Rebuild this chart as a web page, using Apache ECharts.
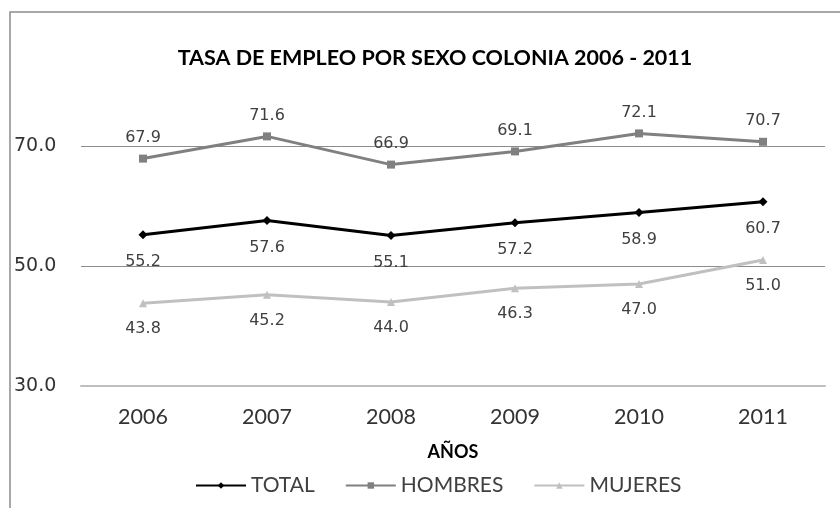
<!DOCTYPE html>
<html>
<head>
<meta charset="utf-8">
<script src="https://cdn.jsdelivr.net/npm/echarts@6/dist/echarts.min.js"></script>
<style>
html, body { margin: 0; padding: 0; background: #fff; }
#chart { width: 840px; height: 508px; }
</style>
</head>
<body>
<div id="chart"></div>
<script>
// data
var years = ['2006', '2007', '2008', '2009', '2010', '2011'];
var total = [55.2, 57.6, 55.1, 57.2, 58.9, 60.7];
var hombres = [67.9, 71.6, 66.9, 69.1, 72.1, 70.7];
var mujeres = [43.8, 45.2, 44.0, 46.3, 47.0, 51.0];

var label_font = 'DejaVu Sans';
var text_font = 'Lato';

var make_label = function(pos, dist){
  return {
    show: true,
    position: pos,
    distance: dist,
    fontFamily: label_font,
    fontSize: 16,
    color: '#404040',
    formatter: function(p){ return p.value.toFixed(1); }
  };
}

var chart = echarts.init(document.getElementById('chart'));

var option = {
  animation: false,
  backgroundColor: '#fff',
  title: {
    text: 'TASA DE EMPLEO POR SEXO COLONIA 2006 - 2011',
    left: 430,
    top: 42,
    textAlign: 'center',
    textStyle: { fontFamily: text_font, fontWeight: 'bold', fontSize: 21.5, color: '#000' }
  },
  graphic: [{
    type: 'rect',
    shape: { x: 10, y: 12, width: 900, height: 600 },
    style: { fill: 'none', stroke: '#8c8c8c', lineWidth: 1.5 },
    silent: true
  }],
  legend: {
    bottom: 7,
    left: 190,
    itemWidth: 50,
    itemHeight: 8,
    itemGap: 30,
    textStyle: { fontFamily: text_font, fontSize: 21, color: '#404040' },
    data: ['TOTAL', 'HOMBRES', 'MUJERES']
  },
  grid: { left: 81, right: 15, top: 86, bottom: 122, containLabel: false },
  xAxis: {
    type: 'category',
    data: years,
    boundaryGap: true,
    name: 'AÑOS',
    nameLocation: 'middle',
    nameGap: 57,
    nameTextStyle: { fontFamily: text_font, fontWeight: 'bold', fontSize: 18, color: '#000' },
    axisLine: { lineStyle: { color: '#bfbfbf', width: 2 } },
    axisTick: { show: false },
    axisLabel: { fontFamily: text_font, fontSize: 21.5, color: '#333', margin: 20 }
  },
  yAxis: {
    type: 'value',
    min: 30,
    max: 80,
    interval: 20,
    axisLine: { show: false },
    axisTick: { show: false },
    axisLabel: {
      fontFamily: label_font, fontSize: 19, color: '#333',
      align: 'left', margin: 67, showMaxLabel: false,
      formatter: function(v){ return v.toFixed(1); }
    },
    splitLine: { showMinLine: false, showMaxLine: false, lineStyle: { color: '#8c8c8c', width: 1 } }
  },
  series: [{
    name: 'TOTAL',
    type: 'line',
    data: total,
    symbol: 'diamond',
    symbolSize: 9,
    lineStyle: { color: '#000', width: 3 },
    itemStyle: { color: '#000' },
    label: make_label('bottom', 15)
  }, {
    name: 'HOMBRES',
    type: 'line',
    data: hombres,
    symbol: 'rect',
    symbolSize: 8,
    lineStyle: { color: '#808080', width: 3 },
    itemStyle: { color: '#808080' },
    label: make_label('top', 9)
  }, {
    name: 'MUJERES',
    type: 'line',
    data: mujeres,
    symbol: 'triangle',
    symbolSize: 8,
    lineStyle: { color: '#c0c0c0', width: 3 },
    itemStyle: { color: '#c0c0c0' },
    label: make_label('bottom', 14)
  }]
};

chart.setOption(option);
</script>
</body>
</html>
